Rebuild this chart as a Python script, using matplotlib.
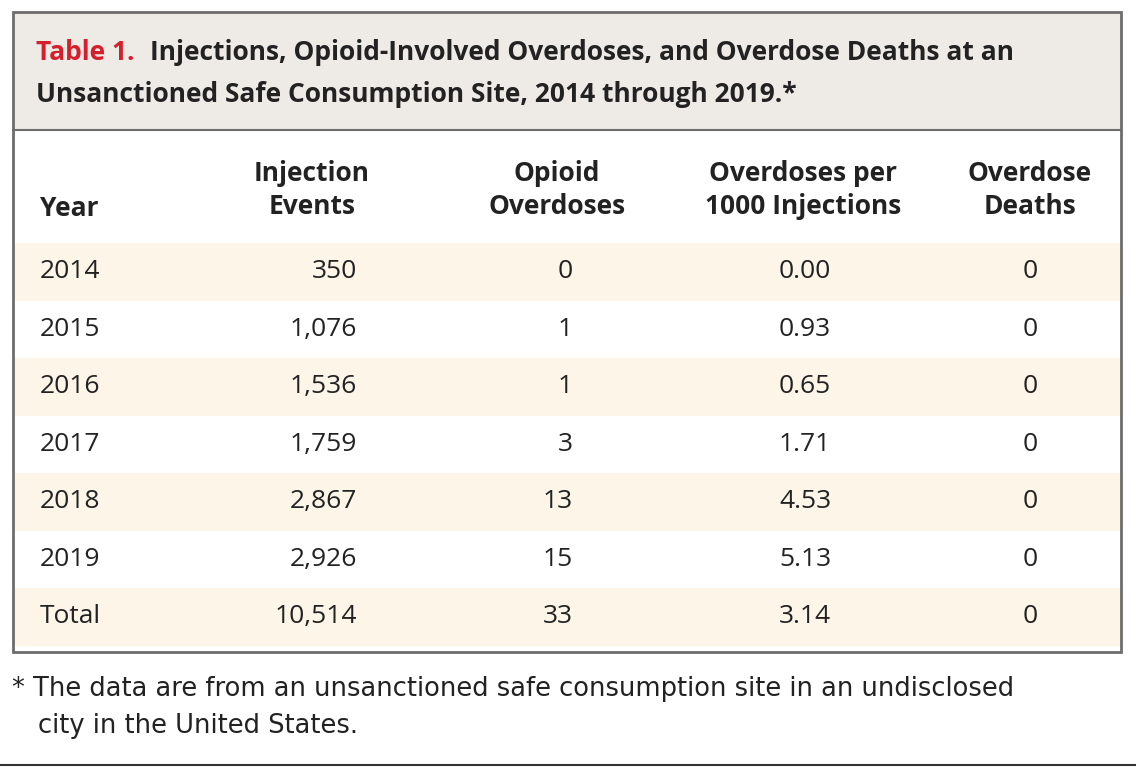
import matplotlib.pyplot as plt
from matplotlib.patches import Rectangle

years = ['2014', '2015', '2016', '2017', '2018', '2019', 'Total']
injections = ['350', '1,076', '1,536', '1,759', '2,867', '2,926', '10,514']
overdoses = ['0', '1', '1', '3', '13', '15', '33']
per_1000 = ['0.00', '0.93', '0.65', '1.71', '4.53', '5.13', '3.14']
deaths = ['0', '0', '0', '0', '0', '0', '0']
headers = ['Injection\nEvents', 'Opioid\nOverdoses', 'Overdoses per\n1000 Injections', 'Overdose\nDeaths']

fig = plt.figure(figsize=(11.36, 7.77), dpi=100)
ax = fig.add_axes([0, 0, 1, 1])
ax.set_xlim(0, 1136)
ax.set_ylim(777, 0)
ax.axis('off')

body = 'Open Sans'
head = 'Open Sans'
ink = '#222222'

# title block
ax.add_patch(Rectangle((13, 12), 1108, 118, facecolor='#eeebe6', edgecolor='none'))
ax.plot([13, 1121], [130, 130], color='#6d6d6d', lw=1.5)
ax.text(36, 52, 'Table 1.', color='#d4202c', fontsize=19, fontweight='bold', family=head, va='center')
ax.text(150, 52, 'Injections, Opioid-Involved Overdoses, and Overdose Deaths at an',
        fontsize=19, fontweight='bold', family=head, va='center', color=ink)
ax.text(36, 94, 'Unsanctioned Safe Consumption Site, 2014 through 2019.*',
        fontsize=19, fontweight='bold', family=head, va='center', color=ink)

# header
ax.text(40, 209, 'Year', fontsize=19, fontweight='bold', family=head, va='center', color=ink)
hx = [312, 557, 803, 1030]
for x, h in zip(hx, headers):
    ax.text(x, 190, h, fontsize=19, fontweight='bold', family=head, ha='center', va='center',
            color=ink, linespacing=1.25)

# rows
row_h = 57.5
y0 = 243
for i in range(len(years)):
    top = y0 + i * row_h
    if i % 2 == 0:
        ax.add_patch(Rectangle((13, top), 1108, row_h, facecolor='#fcf5e8', edgecolor='none'))
    yc = top + row_h / 2
    ax.text(40, yc, years[i], fontsize=19, family=body, va='center', color=ink)
    ax.text(357, yc, injections[i], fontsize=19, family=body, va='center', ha='right', color=ink)
    ax.text(573, yc, overdoses[i], fontsize=19, family=body, va='center', ha='right', color=ink)
    ax.text(831, yc, per_1000[i], fontsize=19, family=body, va='center', ha='right', color=ink)
    ax.text(1030, yc, deaths[i], fontsize=19, family=body, va='center', ha='center', color=ink)

# outer box
ax.add_patch(Rectangle((13, 12), 1108, 640, facecolor='none', edgecolor='#6d6d6d', lw=2))

# footnote
ax.text(12, 689, '* The data are from an unsanctioned safe consumption site in an undisclosed',
        fontsize=18.5, family='DejaVu Sans', va='center', color=ink)
ax.text(38, 726, 'city in the United States.', fontsize=18.5, family='DejaVu Sans', va='center', color=ink)
ax.plot([0, 1136], [765, 765], color='#333333', lw=1.5)

fig.savefig('out.png', dpi=100, facecolor='white')
